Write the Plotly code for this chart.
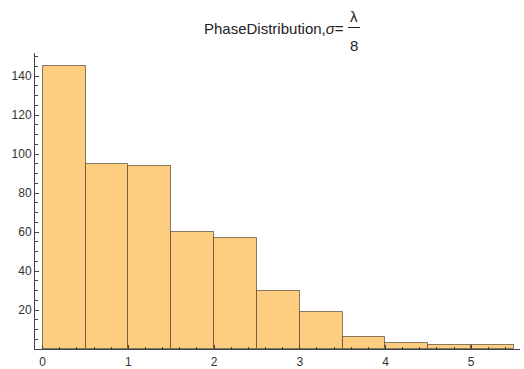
import plotly.graph_objects as go

# Histogram bins (left edges, common width) and counts
bin_lefts = [0.0, 0.5, 1.0, 1.5, 2.0, 2.5, 3.0, 3.5, 4.0, 4.5, 5.0]
bin_width = 0.5
counts = [145, 95, 94, 60, 57, 30, 19, 6, 3, 2, 2]

x_ticks = [0, 1, 2, 3, 4, 5]
y_ticks = [20, 40, 60, 80, 100, 120, 140]

title_main = "PhaseDistribution,<i>σ</i>="
title_num = "λ"
title_den = "8"

FONT = "Liberation Sans, Arial, sans-serif"
BAR_FILL = "rgb(253, 206, 128)"
BAR_EDGE = "rgba(70, 60, 40, 0.65)"
AXIS_COL = "#444444"

# plot-area geometry in pixels, used to place the title pieces
W, H = 524, 369
L, R, T, B = 35, 4, 53, 20
pw, ph = W - L - R, H - T - B


def px_to_paper(px, py):
    return (px - L) / pw, (H - B - py) / ph


fig = go.Figure()
fig.add_trace(go.Bar(
    x=[b + bin_width / 2 for b in bin_lefts],
    y=counts,
    width=[bin_width] * len(bin_lefts),
    marker=dict(color=BAR_FILL, line=dict(color=BAR_EDGE, width=1)),
    hoverinfo="x+y",
))

axis_common = dict(
    showgrid=False, zeroline=False, showline=True, linecolor=AXIS_COL,
    linewidth=1, ticks="inside", tickcolor=AXIS_COL, ticklen=4,
    tickfont=dict(family=FONT, size=12, color="#333333"),
    automargin=False,
)

fig.update_xaxes(
    range=[-0.09, 5.57], tickvals=x_ticks, ticklabelstandoff=2,
    minor=dict(dtick=0.2, tick0=0, ticks="inside", ticklen=2.5, tickcolor=AXIS_COL),
    **axis_common,
)
fig.update_yaxes(
    range=[0, 151.8], tickvals=y_ticks,
    minor=dict(dtick=5, tick0=0, ticks="inside", ticklen=2.5, tickcolor=AXIS_COL),
    **axis_common,
)

# title: main text plus a stacked fraction λ / 8
mx, my = px_to_paper(346, 28)
nx, ny = px_to_paper(354, 16)
dx, dy = px_to_paper(354, 45)
annotations = [
    dict(text=title_main, x=mx, y=my, xanchor="right", yanchor="middle"),
    dict(text=title_num, x=nx, y=ny, xanchor="center", yanchor="middle"),
    dict(text=title_den, x=dx, y=dy, xanchor="center", yanchor="middle"),
]
for a in annotations:
    a.update(xref="paper", yref="paper", showarrow=False,
             font=dict(family=FONT, size=15, color="#222222"))

bx0, by = px_to_paper(348, 27.5)
bx1, _ = px_to_paper(360, 27.5)

fig.update_layout(
    width=W, height=H,
    margin=dict(l=L, r=R, t=T, b=B),
    paper_bgcolor="white", plot_bgcolor="white",
    showlegend=False, bargap=0,
    annotations=annotations,
    shapes=[dict(type="line", xref="paper", yref="paper",
                 x0=bx0, x1=bx1, y0=by, y1=by,
                 line=dict(color="#222222", width=1))],
)

fig.write_html("out.html")
